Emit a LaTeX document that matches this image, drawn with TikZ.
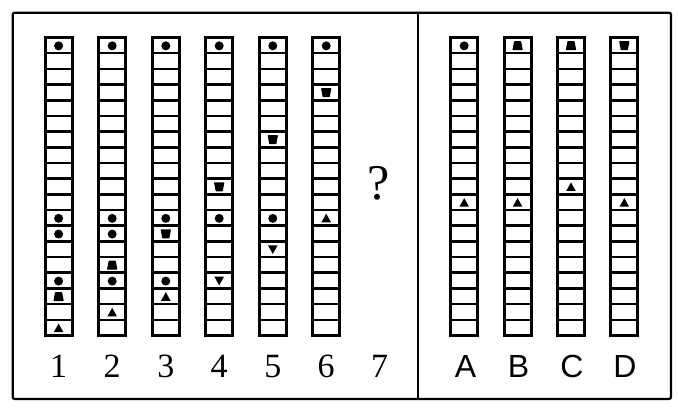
\documentclass[tikz,border=0pt]{standalone}
\usepackage{fontspec}
\setmainfont{Liberation Serif}
\newfontfamily\labsans{Liberation Sans}
\newcommand\cellh{15.684}
\newcommand\celly[1]{{38+(#1-0.5)*\cellh}}
\newcommand\mkdot[2]{\fill (#1,\celly{#2}) circle (4.5pt);}
\newcommand\mktrapu[2]{\fill[rounded corners=0.6pt] ([shift={(-5.2,4.3)}]#1,\celly{#2}) -- ++(10.4,0) -- ++(-1.7,-9) -- ++(-7,0) -- cycle;}
\newcommand\mktrapd[2]{\fill[rounded corners=0.6pt] ([shift={(-5.2,-4.7)}]#1,\celly{#2}) -- ++(10.4,0) -- ++(-1.7,9) -- ++(-7,0) -- cycle;}
\newcommand\mktriu[2]{\fill ([shift={(-4.8,4)}]#1,\celly{#2}) -- ++(9.6,0) -- ++(-4.8,-8.6) -- cycle;}
\newcommand\mktrid[2]{\fill ([shift={(-4.8,-4.4)}]#1,\celly{#2}) -- ++(9.6,0) -- ++(-4.8,8.6) -- cycle;}
\newcommand\mkstrip[2]{%
  \node[stripbox] (#1) at (#2,186.5) {};
  \foreach \k in {1,...,18}
    \draw[cellline] ([yshift=-\k*\cellh pt]#1.north west) -- ([yshift=-\k*\cellh pt]#1.north east);
}
\begin{document}
\begin{tikzpicture}[x=1pt,y=-1pt,
  stripbox/.style={draw, line width=3pt, rectangle, minimum width=27pt, minimum height=298pt, inner sep=0pt, outer sep=0pt},
  cellline/.style={line width=2.6pt},
  framebox/.style={line width=2.2pt, rounded corners=2pt},
  numlab/.style={anchor=base, inner sep=0pt, font=\fontsize{34}{34}\selectfont},
  letlab/.style={anchor=base, inner sep=0pt, font=\labsans\fontsize{32}{32}\selectfont}]
\useasboundingbox (0,0) rectangle (678,412);
\draw[framebox] (12.7,12.7) rectangle (671,399);
\coordinate (dtop) at (418,12.7);
\coordinate (dbot) at (418,399);
\draw[line width=2.2pt] (dtop) -- (dbot);
% strips
\mkstrip{c1}{58.6}
\mkstrip{c2}{112.2}
\mkstrip{c3}{165.8}
\mkstrip{c4}{219.2}
\mkstrip{c5}{272.8}
\mkstrip{c6}{326.2}
\mkstrip{oA}{464.2}
\mkstrip{oB}{517.6}
\mkstrip{oC}{571}
\mkstrip{oD}{624.3}
% column 1
\mkdot{58.6}{1}\mkdot{58.6}{12}\mkdot{58.6}{13}\mkdot{58.6}{16}\mktrapu{58.6}{17}\mktriu{58.6}{19}
% column 2
\mkdot{112.2}{1}\mkdot{112.2}{12}\mkdot{112.2}{13}\mktrapu{112.2}{15}\mkdot{112.2}{16}\mktriu{112.2}{18}
% column 3
\mkdot{165.8}{1}\mkdot{165.8}{12}\mktrapd{165.8}{13}\mkdot{165.8}{16}\mktriu{165.8}{17}
% column 4
\mkdot{219.2}{1}\mktrapd{219.2}{10}\mkdot{219.2}{12}\mktrid{219.2}{16}
% column 5
\mkdot{272.8}{1}\mktrapd{272.8}{7}\mkdot{272.8}{12}\mktrid{272.8}{14}
% column 6
\mkdot{326.2}{1}\mktrapd{326.2}{4}\mktriu{326.2}{12}
% options
\mkdot{464.2}{1}\mktriu{464.2}{11}
\mktrapu{517.6}{1}\mktriu{517.6}{11}
\mktrapu{571}{1}\mktriu{571}{10}
\mktrapd{624.3}{1}\mktriu{624.3}{11}
% question mark
\node[anchor=base, inner sep=0pt, font=\fontsize{50}{50}\selectfont] (q) at (378.5,199) {?};
% labels
\node[numlab] (l1) at (58.6,377) {1};
\node[numlab] (l2) at (112.2,377) {2};
\node[numlab] (l3) at (165.8,377) {3};
\node[numlab] (l4) at (219.2,377) {4};
\node[numlab] (l5) at (272.8,377) {5};
\node[numlab] (l6) at (326.2,377) {6};
\node[numlab] (l7) at (379.5,377) {7};
\node[letlab] (lA) at (465.5,377) {A};
\node[letlab] (lB) at (518.5,377) {B};
\node[letlab] (lC) at (572,377) {C};
\node[letlab] (lD) at (625,377) {D};
\end{tikzpicture}
\end{document}
